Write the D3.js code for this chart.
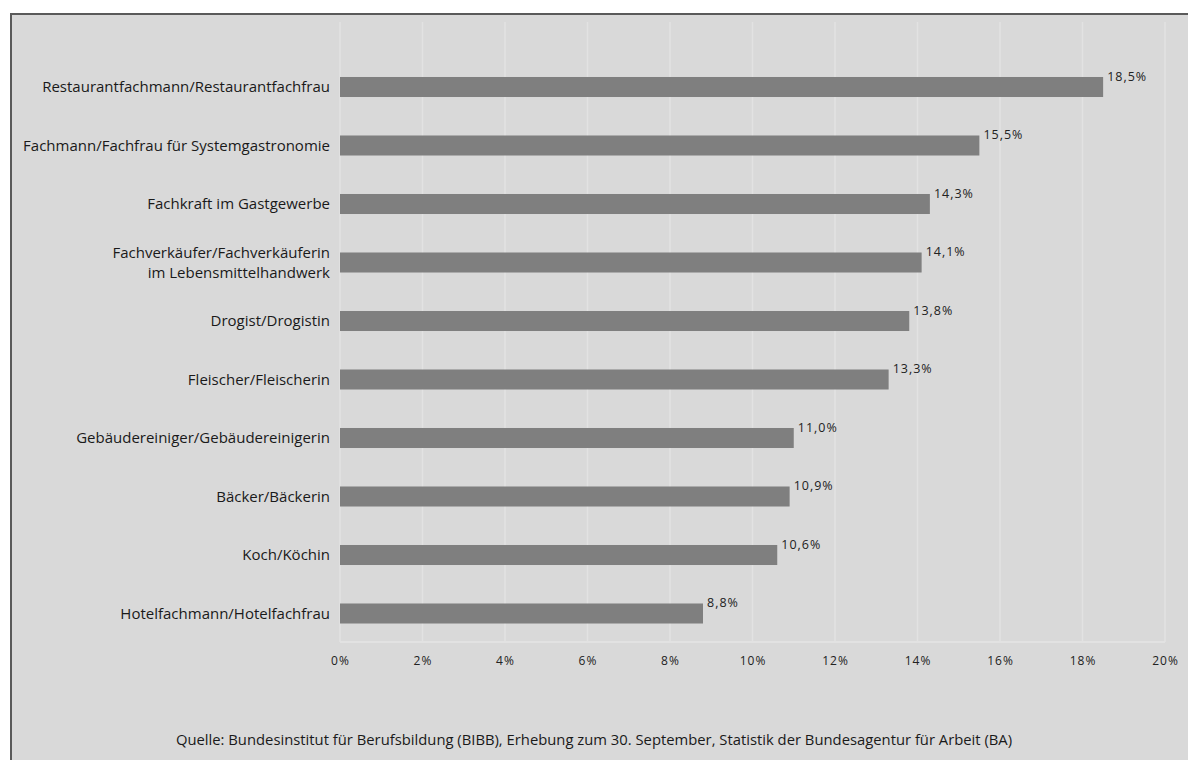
<!DOCTYPE html>
<html><head><meta charset="utf-8">
<script src="https://cdn.jsdelivr.net/npm/d3@7"></script>
<style>
html,body{margin:0;padding:0;background:#fff;}
svg{display:block;}
</style></head>
<body>
<svg id="c" width="1188" height="760"></svg>
<script>
const categories = [
  ["Restaurantfachmann/Restaurantfachfrau"],
  ["Fachmann/Fachfrau für Systemgastronomie"],
  ["Fachkraft im Gastgewerbe"],
  ["Fachverkäufer/Fachverkäuferin", "im Lebensmittelhandwerk"],
  ["Drogist/Drogistin"],
  ["Fleischer/Fleischerin"],
  ["Gebäudereiniger/Gebäudereinigerin"],
  ["Bäcker/Bäckerin"],
  ["Koch/Köchin"],
  ["Hotelfachmann/Hotelfachfrau"]
];
const values = [18.5, 15.5, 14.3, 14.1, 13.8, 13.3, 11.0, 10.9, 10.6, 8.8];
const xTicks = [0, 2, 4, 6, 8, 10, 12, 14, 16, 18, 20];
const sourceText = "Quelle: Bundesinstitut für Berufsbildung (BIBB), Erhebung zum 30. September, Statistik der Bundesagentur für Arbeit (BA)";

const svg = d3.select("#c");
const font = "'Open Sans', 'Noto Sans', sans-serif";

// frame
svg.append("rect").attr("x", 11).attr("y", 14).attr("width", 1200).attr("height", 800)
  .attr("fill", "#d9d9d9").attr("stroke", "#5a5a5a").attr("stroke-width", 2);

const x = d3.scaleLinear().domain([0, 20]).range([340, 1165]);
const idx = d3.range(values.length);
const y = d3.scaleBand().domain(idx).range([57.75, 642.75]).paddingInner(0.658).paddingOuter(0.329);

// grid
const g = svg.append("g");
g.selectAll("line.v").data(xTicks).join("line")
  .attr("x1", d => x(d)).attr("x2", d => x(d))
  .attr("y1", 22).attr("y2", 642)
  .attr("stroke", "#e2e2e2").attr("stroke-width", 1.5);
g.append("line").attr("x1", x(0)).attr("x2", x(20)).attr("y1", 642).attr("y2", 642)
  .attr("stroke", "#e2e2e2").attr("stroke-width", 2);

// bars
svg.append("g").selectAll("rect").data(values).join("rect")
  .attr("x", x(0)).attr("y", (d, i) => y(i))
  .attr("width", d => x(d) - x(0)).attr("height", y.bandwidth())
  .attr("fill", "#7f7f7f");

// value labels
svg.append("g").selectAll("text").data(values).join("text")
  .attr("x", d => x(d) + 4).attr("y", (d, i) => y(i) + 4)
  .attr("font-family", font).attr("font-size", 12.5).attr("letter-spacing", 1)
  .attr("fill", "#222")
  .text(d => d.toFixed(1).replace(".", ",") + "%");

// category labels
const cl = svg.append("g").selectAll("text").data(categories).join("text")
  .attr("text-anchor", "end")
  .attr("font-family", font).attr("font-size", 15).attr("fill", "#1a1a1a")
  .attr("y", (d, i) => y(i) + y.bandwidth() / 2);
cl.each(function(d) {
  const t = d3.select(this);
  const n = d.length;
  d.forEach((line, k) => {
    t.append("tspan").attr("x", 330)
      .attr("dy", k === 0 ? ((-(n - 1) / 2) * 20 + 5) : 20)
      .text(line);
  });
});

// x axis
const ax = svg.append("g").attr("transform", "translate(0,642)")
  .call(d3.axisBottom(x).tickValues(xTicks).tickSize(0).tickPadding(14).tickFormat(d => d + "%"));
ax.select(".domain").remove();
ax.selectAll("text").attr("font-family", font).attr("font-size", 12).attr("letter-spacing", 1).attr("fill", "#222");

// source
svg.append("text").attr("x", 594).attr("y", 745).attr("text-anchor", "middle")
  .attr("font-family", font).attr("font-size", 14.8).attr("fill", "#1a1a1a")
  .text(sourceText);
</script>
</body></html>
